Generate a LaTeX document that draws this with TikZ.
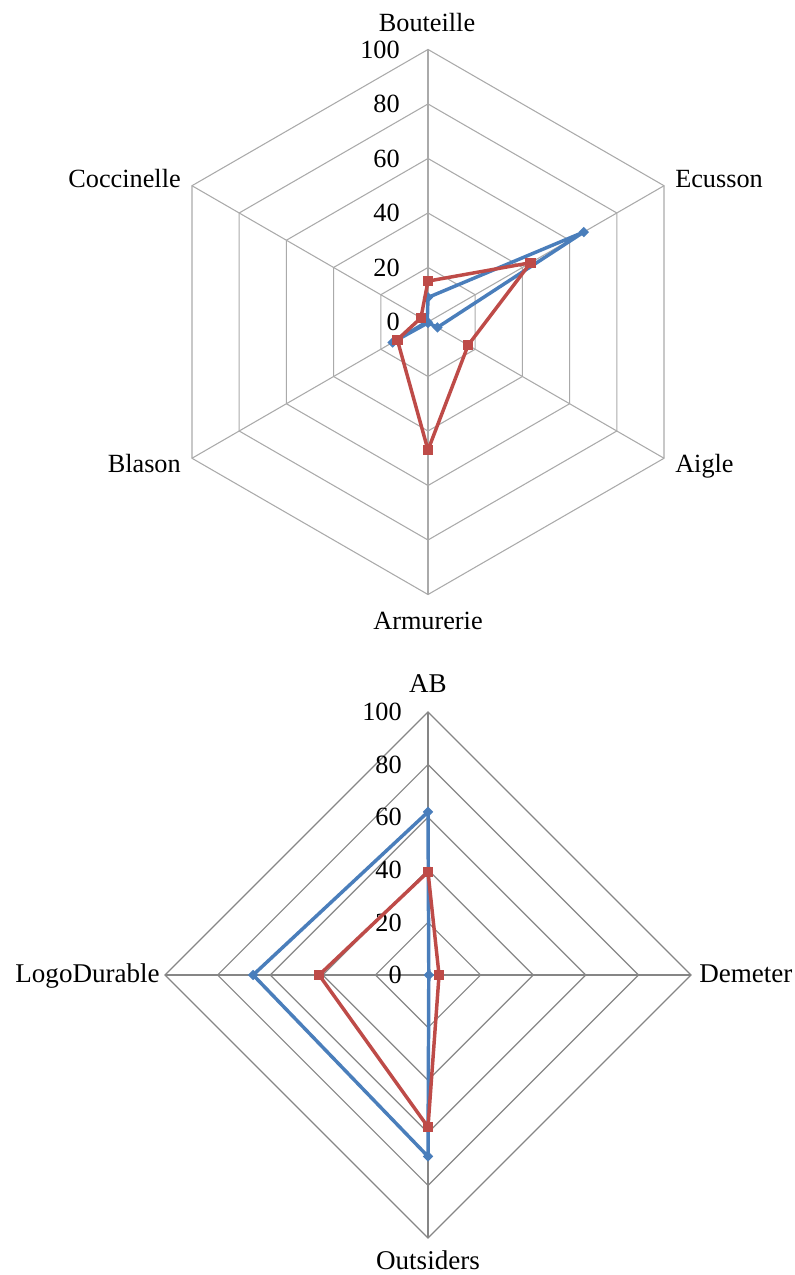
\documentclass[tikz,border=0pt]{standalone}
\usepackage{fontspec}
\setmainfont{Liberation Serif}
\usetikzlibrary{shapes.geometric}

\definecolor{serieA}{RGB}{74,126,187}
\definecolor{serieB}{RGB}{190,75,72}
\definecolor{grille}{RGB}{170,170,170}
\definecolor{grille2}{RGB}{134,134,134}

\tikzstyle{grid} = [draw=grille, line width=0.8pt]
\tikzstyle{grid2} = [draw=grille2, line width=0.9pt]
\tikzstyle{axetxt} = [inner sep=0pt, font=\fontsize{19.7}{24}\selectfont]
\tikzstyle{axetxt2} = [inner sep=0pt, font=\fontsize{20.3}{25}\selectfont]
\tikzstyle{valtxt} = [axetxt, anchor=east]
\tikzstyle{lineA} = [draw=serieA, line width=2.6pt, line join=round]
\tikzstyle{lineB} = [draw=serieB, line width=2.6pt, line join=round]
\tikzstyle{ptA} = [diamond, fill=serieA, inner sep=0pt, minimum size=8pt]
\tikzstyle{ptB} = [rectangle, fill=serieB, inner sep=0pt, minimum size=7.8pt]

\begin{document}
\begin{tikzpicture}[x=0.75pt,y=0.75pt]
\useasboundingbox (0,0) rectangle (795,1275);

% hexagone
\begin{scope}[shift={(428,953)},x=2.044pt,y=2.044pt]
\draw[grid] (90:20) -- (30:20) -- (-30:20) -- (-90:20) -- (-150:20) -- (150:20) -- cycle;
\draw[grid] (90:40) -- (30:40) -- (-30:40) -- (-90:40) -- (-150:40) -- (150:40) -- cycle;
\draw[grid] (90:60) -- (30:60) -- (-30:60) -- (-90:60) -- (-150:60) -- (150:60) -- cycle;
\draw[grid] (90:80) -- (30:80) -- (-30:80) -- (-90:80) -- (-150:80) -- (150:80) -- cycle;
\draw[grid] (90:100) -- (30:100) -- (-30:100) -- (-90:100) -- (-150:100) -- (150:100) -- cycle;
\coordinate (o) at (0,0);
\draw[grid] (o) -- (90:100);
\draw[grid] (o) -- (30:100);
\draw[grid] (o) -- (-30:100);
\draw[grid] (o) -- (-90:100);
\draw[grid] (o) -- (-150:100);
\draw[grid] (o) -- (150:100);

\node[valtxt] (v0) at (-10.3,0) {0};
\node[valtxt] (v20) at (-10.3,20) {20};
\node[valtxt] (v40) at (-10.3,40) {40};
\node[valtxt] (v60) at (-10.3,60) {60};
\node[valtxt] (v80) at (-10.3,80) {80};
\node[valtxt] (v100) at (-10.3,100) {100};

\coordinate (a1) at (90:9);
\coordinate (a2) at (30:66);
\coordinate (a3) at (-30:4);
\coordinate (a4) at (-90:0.3);
\coordinate (a5) at (-150:15);
\coordinate (a6) at (150:0.3);
\draw[lineA] (a1) -- (a2) -- (a3) -- (a4) -- (a5) -- (a6) -- cycle;
\node[ptA] (ma1) at (a1) {};
\node[ptA] (ma2) at (a2) {};
\node[ptA] (ma3) at (a3) {};
\node[ptA] (ma4) at (a4) {};
\node[ptA] (ma5) at (a5) {};
\node[ptA] (ma6) at (a6) {};

\coordinate (b1) at (90:15);
\coordinate (b2) at (30:43.5);
\coordinate (b3) at (-30:17);
\coordinate (b4) at (-90:47);
\coordinate (b5) at (-150:13);
\coordinate (b6) at (150:3);
\draw[lineB] (b1) -- (b2) -- (b3) -- (b4) -- (b5) -- (b6) -- cycle;
\node[ptB] (mb1) at (b1) {};
\node[ptB] (mb2) at (b2) {};
\node[ptB] (mb3) at (b3) {};
\node[ptB] (mb4) at (b4) {};
\node[ptB] (mb5) at (b5) {};
\node[ptB] (mb6) at (b6) {};
\end{scope}

\node[axetxt,anchor=base] (bouteille) at (427,1243) {Bouteille};
\node[axetxt,anchor=base west] (ecusson) at (675,1087) {Ecusson};
\node[axetxt,anchor=base west] (aigle) at (675,802) {Aigle};
\node[axetxt,anchor=base] (armurerie) at (428,645) {Armurerie};
\node[axetxt,anchor=base east] (blason) at (181,802) {Blason};
\node[axetxt,anchor=base east] (coccinelle) at (181,1087) {Coccinelle};

% losange
\begin{scope}[shift={(428,300)},x=1.9725pt,y=1.9725pt]
\draw[grid2] (90:20) -- (0:20) -- (-90:20) -- (180:20) -- cycle;
\draw[grid2] (90:40) -- (0:40) -- (-90:40) -- (180:40) -- cycle;
\draw[grid2] (90:60) -- (0:60) -- (-90:60) -- (180:60) -- cycle;
\draw[grid2] (90:80) -- (0:80) -- (-90:80) -- (180:80) -- cycle;
\draw[grid2] (90:100) -- (0:100) -- (-90:100) -- (180:100) -- cycle;
\coordinate (p) at (0,0);
\draw[grid2] (p) -- (90:100);
\draw[grid2] (p) -- (0:100);
\draw[grid2] (p) -- (-90:100);
\draw[grid2] (p) -- (180:100);

\node[valtxt] (w0) at (-9.9,0) {0};
\node[valtxt] (w20) at (-9.9,20) {20};
\node[valtxt] (w40) at (-9.9,40) {40};
\node[valtxt] (w60) at (-9.9,60) {60};
\node[valtxt] (w80) at (-9.9,80) {80};
\node[valtxt] (w100) at (-9.9,100) {100};

\coordinate (c1) at (90:62);
\coordinate (c2) at (0:0.3);
\coordinate (c3) at (-90:69);
\coordinate (c4) at (180:66.5);
\draw[lineA] (c1) -- (c2) -- (c3) -- (c4) -- cycle;
\node[ptA] (mc1) at (c1) {};
\node[ptA] (mc2) at (c2) {};
\node[ptA] (mc3) at (c3) {};
\node[ptA] (mc4) at (c4) {};

\coordinate (d1) at (90:39.2);
\coordinate (d2) at (0:4.2);
\coordinate (d3) at (-90:57.8);
\coordinate (d4) at (180:41.4);
\draw[lineB] (d1) -- (d2) -- (d3) -- (d4) -- cycle;
\node[ptB] (md1) at (d1) {};
\node[ptB] (md2) at (d2) {};
\node[ptB] (md3) at (d3) {};
\node[ptB] (md4) at (d4) {};
\end{scope}

\node[axetxt2,anchor=base] (ab) at (428,582) {AB};
\node[axetxt2,anchor=base west] (demeter) at (699,292) {Demeter};
\node[axetxt2,anchor=base] (outsiders) at (428,6) {Outsiders};
\node[axetxt2,anchor=base east] (logodurable) at (160,292) {LogoDurable};

\end{tikzpicture}
\end{document}
